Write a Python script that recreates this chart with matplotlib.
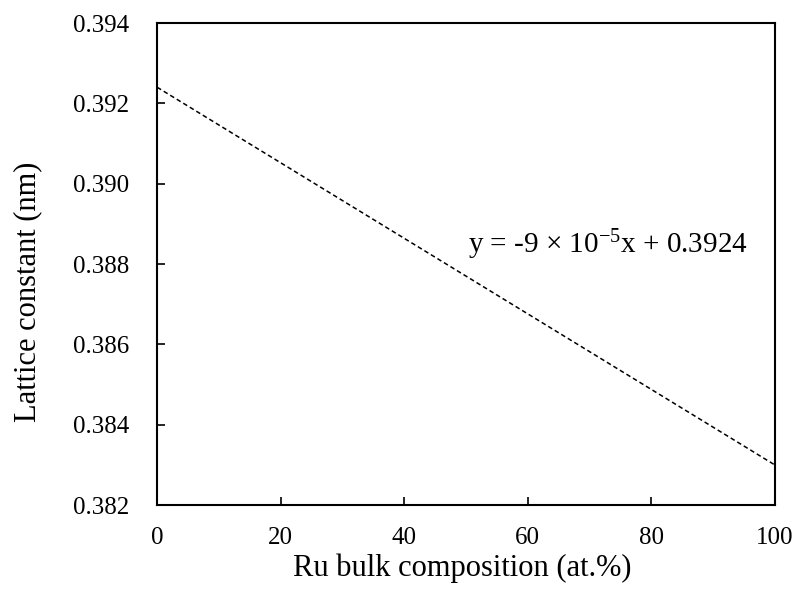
import matplotlib
matplotlib.use("Agg")
import matplotlib.pyplot as plt

# trend line
ru_at = [0, 100]
lattice_nm = [0.3924, 0.3830]

x_ticks = [0, 20, 40, 60, 80, 100]
y_ticks = [0.382, 0.384, 0.386, 0.388, 0.390, 0.392, 0.394]

plt.rcParams['font.family'] = ['Liberation Serif', 'DejaVu Serif']
plt.rcParams['mathtext.fontset'] = 'custom'
plt.rcParams['mathtext.rm'] = 'Liberation Serif'
plt.rcParams['mathtext.it'] = 'Liberation Serif:italic'

fig = plt.figure(figsize=(8.02, 5.90), dpi=100)
ax = fig.add_axes([0.196, 0.144, 0.770, 0.817])

ax.plot(ru_at, lattice_nm, color='k', lw=1.1, ls=(0, (3, 2)))

ax.set_xlim(0, 100)
ax.set_ylim(0.382, 0.394)
ax.set_xticks(x_ticks)
ax.set_yticks(y_ticks)
ax.set_yticklabels(["%.3f" % v for v in y_ticks])
ax.tick_params(direction='in', length=6, width=1.2, labelsize=18,
               top=False, right=False)
ax.tick_params(axis='y', pad=20)
ax.tick_params(axis='x', pad=16)
for s in ax.spines.values():
    s.set_linewidth(1.5)

ax.set_xlabel("Ru bulk composition (at.%)", fontsize=22)
ax.set_ylabel("Lattice constant (nm)", fontsize=22)
ax.xaxis.set_label_coords(0.494, -0.0996)
ax.yaxis.set_label_coords(-0.186, 0.442)

ax.text(50.4, 0.38848, r"y = -9 $\times$ 10$^{\mathregular{-5}}$x + 0.3924",
        fontsize=21, va='center', ha='left')

fig.savefig("out.png", dpi=100)
